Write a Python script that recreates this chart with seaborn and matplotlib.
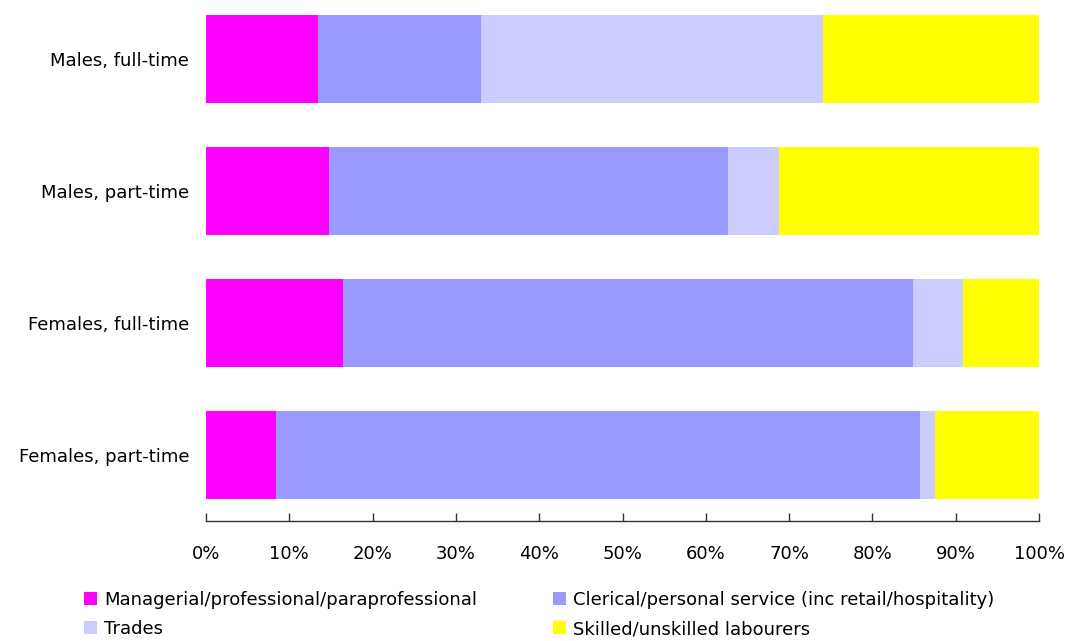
import matplotlib
matplotlib.use("Agg")
import matplotlib.pyplot as plt
from matplotlib.patches import Patch
import numpy as np
import pandas as pd
import seaborn as sns

# Share of employment (%) by occupation group
groups = ["Males, full-time", "Males, part-time", "Females, full-time", "Females, part-time"]
managerial = [13.4, 14.8, 16.4, 8.4]
clerical = [19.6, 47.9, 68.5, 77.3]
trades = [41.1, 6.1, 6.0, 1.8]
labourers = [25.9, 31.2, 9.1, 12.5]

series_names = [
    "Managerial/professional/paraprofessional",
    "Clerical/personal service (inc retail/hospitality)",
    "Trades",
    "Skilled/unskilled labourers",
]
colors = ["#FF00FF", "#9999FF", "#CCCCFF", "#FFFF00"]
tick_values = list(range(0, 101, 10))
tick_labels = [f"{v}%" for v in tick_values]

sns.set_theme(style="white")
plt.rcParams["font.family"] = ["DejaVu Sans"]
FS = 13

fig = plt.figure(figsize=(10.68, 6.41), dpi=100)
ax = fig.add_axes([206 / 1068, 1 - 521 / 641, (1039 - 206) / 1068, (521 - 6) / 641])

# Stacked bars: draw cumulative totals from the outermost segment inward
segments = [managerial, clerical, trades, labourers]
cum = np.cumsum(np.array(segments), axis=0)
for i in range(len(segments) - 1, -1, -1):
    df = pd.DataFrame({"group": groups, "value": cum[i]})
    sns.barplot(data=df, x="value", y="group", orient="h", color=colors[i],
                saturation=1, width=0.667, linewidth=0, ax=ax)

ax.set_xlim(0, 100)
ax.set_ylim(3.5, -0.4)
ax.set_xticks(tick_values)
ax.set_xticklabels(tick_labels, fontsize=FS, color="black")
ax.set_yticklabels(groups, fontsize=FS, color="black")
ax.set_xlabel("")
ax.set_ylabel("")
for s in ["top", "right", "left"]:
    ax.spines[s].set_visible(False)
ax.spines["bottom"].set_color("#333333")
ax.spines["bottom"].set_linewidth(1)
ax.tick_params(axis="x", bottom=True, direction="in", length=6, width=1,
               color="#333333", pad=17)
ax.tick_params(axis="y", left=False, length=0, pad=12)

# Legend filled row by row (matplotlib fills columns first, so reorder)
order = [0, 2, 1, 3]
handles = [Patch(facecolor=colors[k], edgecolor="none") for k in order]
labels = [series_names[k] for k in order]
leg = fig.legend(handles, labels, loc="upper left", bbox_to_anchor=(84 / 1068, 1 - 591 / 641),
                 ncol=2, frameon=False, fontsize=FS, handlelength=0.72, handleheight=0.72,
                 handletextpad=0.4, columnspacing=4.2, labelspacing=0.62, borderaxespad=0,
                 borderpad=0)
for t in leg.get_texts():
    t.set_color("black")

fig.savefig("out.png", dpi=100)
